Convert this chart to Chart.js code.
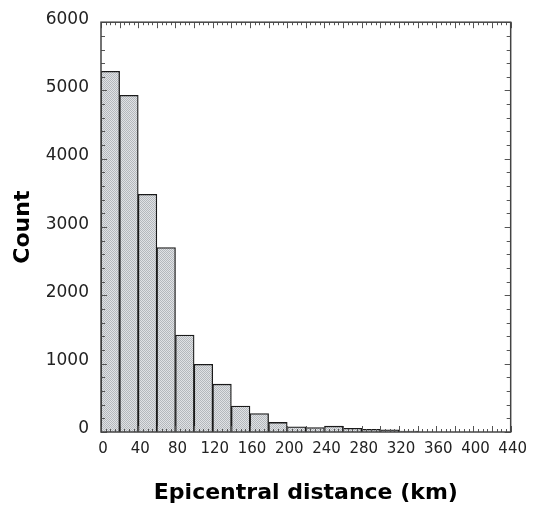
<!DOCTYPE html>
<html>
<head>
<meta charset="utf-8">
<script src="https://cdn.jsdelivr.net/npm/chart.js@4.4.1/dist/chart.umd.min.js"></script>
<style>
  html, body { margin: 0; padding: 0; background: #ffffff; }
  #wrap { width: 533px; height: 506px; position: relative; }
</style>
</head>
<body>
<div id="wrap"><canvas id="c" width="533" height="506"></canvas></div>
<script>
// ---- data ----
const binStarts = [0, 20, 40, 60, 80, 100, 120, 140, 160, 180, 200, 220, 240, 260, 280, 300, 320];
const binWidth = 20;
const counts = [5280, 4930, 3480, 2700, 1420, 990, 700, 380, 270, 140, 75, 65, 85, 55, 40, 30, 12];
const xTickValues = [0, 40, 80, 120, 160, 200, 240, 280, 320, 360, 400, 440];
const yTickValues = [0, 1000, 2000, 3000, 4000, 5000, 6000];
const xTitle = 'Epicentral distance (km)';
const yTitle = 'Count';

// ---- fill pattern ----
function makePattern() {
  const p = document.createElement('canvas');
  p.width = 4; p.height = 4;
  const g = p.getContext('2d');
  g.fillStyle = '#e0e2e5';
  g.fillRect(0, 0, 4, 4);
  g.fillStyle = '#b4b8bc';
  for (let y = 0; y < 4; y++) {
    for (let x = 0; x < 4; x++) {
      if ((x + y) % 2 === 0) g.fillRect(x, y, 1, 1);
    }
  }
  return document.getElementById('c').getContext('2d').createPattern(p, 'repeat');
}

const points = binStarts.map((s, i) => ({ x: s + binWidth / 2, y: counts[i] }));

const frameTicks = {
  id: 'frameTicks',
  afterDatasetsDraw(chart) {
    const { ctx, chartArea: a, scales } = chart;
    const xs = scales.x, ys = scales.y;
    ctx.save();
    ctx.strokeStyle = '#555';
    ctx.lineWidth = 1;
    for (let v = 0; v <= 440; v += 5) {
      const px = Math.round(xs.getPixelForValue(v)) + 0.5;
      const len = (v % 20 === 0) ? 6 : 3;
      ctx.beginPath();
      ctx.moveTo(px, a.bottom); ctx.lineTo(px, a.bottom - len);
      ctx.moveTo(px, a.top); ctx.lineTo(px, a.top + len);
      ctx.stroke();
    }
    for (let v = 0; v <= 6000; v += 200) {
      const py = Math.round(ys.getPixelForValue(v)) + 0.5;
      const len = (v % 1000 === 0) ? 6 : 4;
      ctx.beginPath();
      ctx.moveTo(a.left, py); ctx.lineTo(a.left + len, py);
      ctx.moveTo(a.right, py); ctx.lineTo(a.right - len, py);
      ctx.stroke();
    }
    ctx.strokeStyle = '#444';
    ctx.lineWidth = 1.5;
    ctx.strokeRect(a.left, a.top, a.right - a.left, a.bottom - a.top);
    ctx.restore();
  }
};

new Chart(document.getElementById('c'), {
  type: 'bar',
  data: {
    datasets: [{
      data: points,
      backgroundColor: makePattern(),
      borderColor: '#1a1a1a',
      borderWidth: 1.3,
      borderSkipped: 'bottom',
      barPercentage: 1.0,
      categoryPercentage: 1.0
    }]
  },
  options: {
    responsive: false,
    animation: false,
    events: [],
    layout: { padding: { left: 0, right: 20, top: 22, bottom: 0 } },
    plugins: { legend: { display: false }, tooltip: { enabled: false } },
    scales: {
      x: {
        type: 'linear',
        min: 0, max: 440,
        offset: false,
        grid: { display: false, offset: false, drawTicks: false },
        border: { display: false },
        afterBuildTicks: (s) => { s.ticks = xTickValues.map(v => ({ value: v })); },
        afterFit: (s) => { s.height = 74; },
        ticks: {
          autoSkip: false,
          maxRotation: 0,
          padding: 8,
          labelOffset: 2,
          color: '#222',
          font: { family: 'DejaVu Sans', size: 15 },
          callback: (v) => String(v)
        },
        title: {
          display: true,
          text: xTitle,
          color: '#000',
          padding: { top: 0, bottom: 0 },
          font: { family: 'DejaVu Sans', size: 22, weight: 'bold' }
        }
      },
      y: {
        min: 0, max: 6000,
        grid: { display: false, drawTicks: false },
        border: { display: false },
        afterBuildTicks: (s) => { s.ticks = yTickValues.map(v => ({ value: v })); },
        afterFit: (s) => { s.width = 101; },
        ticks: {
          padding: 12,
          labelOffset: -3,
          color: '#222',
          font: { family: 'DejaVu Sans', size: 17 },
          callback: (v) => String(v)
        },
        title: {
          display: true,
          text: yTitle,
          color: '#000',
          padding: { top: 10, bottom: 0 },
          font: { family: 'DejaVu Sans', size: 22, weight: 'bold' }
        }
      }
    }
  },
  plugins: [frameTicks]
});
</script>
</body>
</html>
